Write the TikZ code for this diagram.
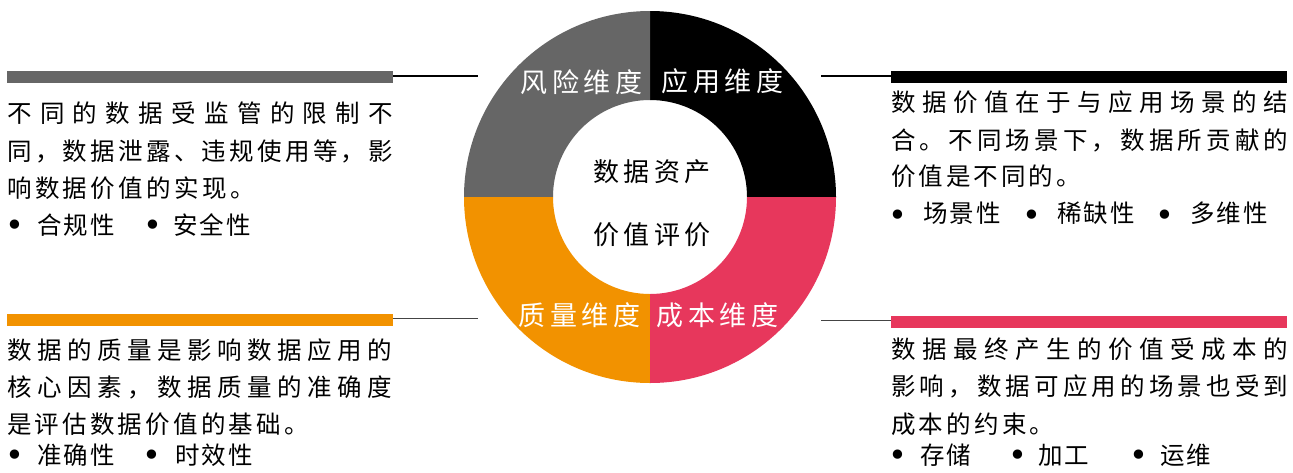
\documentclass[tikz,border=0pt]{standalone}
\usepackage{fontspec}
\newfontfamily\cjk{Noto Sans CJK SC}
\newfontfamily\bulfont{DejaVu Sans}
\definecolor{segGray}{RGB}{102,102,102}
\definecolor{segBlack}{RGB}{0,0,0}
\definecolor{segOrange}{RGB}{242,146,0}
\definecolor{segPink}{RGB}{231,55,92}
\definecolor{lineDark}{RGB}{68,68,68}
\newdimen\lsamt
\def\spaced#1#2{\lsamt=#1\relax\spacedfirst#2\relax}
\def\spacedfirst#1{#1\spacedi}
\def\spacedi#1{\ifx#1\relax\else\hskip\lsamt#1\expandafter\spacedi\fi}
\def\just#1#2{\makebox[#1][s]{\justfirst#2\relax}}
\def\justfirst#1{#1\justi}
\def\justi#1{\ifx#1\relax\else\hfil#1\expandafter\justi\fi}
\tikzset{
  body/.style={anchor=west, inner sep=0pt, font=\cjk\fontsize{24.5}{24.5}\selectfont, text=black},
  bul/.style={anchor=north, inner sep=0pt, font=\bulfont\fontsize{32}{32}\selectfont, text=black},
  seglabel/.style={anchor=center, inner sep=0pt, font=\cjk\fontsize{27}{27}\selectfont, text=white},
  centerlabel/.style={anchor=center, inner sep=0pt, font=\cjk\fontsize{26}{26}\selectfont, text=black},
  bar/.style={rectangle, inner sep=0pt, minimum height=11.7pt, draw=none},
  conn/.style={line width=1.4pt},
}
\begin{document}
\begin{tikzpicture}[x=1pt,y=-1pt]
\useasboundingbox[fill=white] (0,0) rectangle (1293,472);

% ring
\begin{scope}[shift={(650,197)},x=1pt,y=1pt]
  \fill[segBlack] (0:186) arc[start angle=0,end angle=90,radius=186] -- (90:97) arc[start angle=90,end angle=0,radius=97] -- cycle;
  \fill[segGray] (90:186) arc[start angle=90,end angle=180,radius=186] -- (180:97) arc[start angle=180,end angle=90,radius=97] -- cycle;
  \fill[segOrange] (180:186) arc[start angle=180,end angle=270,radius=186] -- (270:97) arc[start angle=270,end angle=180,radius=97] -- cycle;
  \fill[segPink] (270:186) arc[start angle=270,end angle=360,radius=186] -- (0:97) arc[start angle=360,end angle=270,radius=97] -- cycle;
\end{scope}

% segment labels
\node[seglabel] (risk) at (581.5,81.7) {\spaced{4.5pt}{风险维度}};
\node[seglabel] (app) at (722.5,81.7) {\spaced{4.5pt}{应用维度}};
\node[seglabel] (qual) at (579.5,315) {\spaced{4.5pt}{质量维度}};
\node[seglabel] (cost) at (717.5,315) {\spaced{4.5pt}{成本维度}};

% center
\node[centerlabel] (c1) at (652,171.7) {\spaced{4.5pt}{数据资产}};
\node[centerlabel] (c2) at (652,235) {\spaced{4.5pt}{价值评价}};

% bars and connectors
\node[bar, fill=segGray, minimum width=386pt] (barTL) at (200,76.8) {};
\node[bar, fill=segBlack, minimum width=396pt] (barTR) at (1089,76.8) {};
\node[bar, fill=segOrange, minimum width=386pt] (barBL) at (200,319.8) {};
\node[bar, fill=segPink, minimum width=396pt] (barBR) at (1089,321.7) {};
\coordinate (endTL) at (478,76);
\coordinate (endTR) at (821,76);
\coordinate (endBL) at (478,318.7);
\coordinate (endBR) at (821,320.7);
\draw[conn, black] (barTL.east |- endTL) -- (endTL);
\draw[conn, black] (barTR.west |- endTR) -- (endTR);
\draw[conn, lineDark] (barBL.east |- endBL) -- (endBL);
\draw[conn, lineDark] (barBR.west |- endBR) -- (endBR);

% top-left text
\node[body] (tl1) at (7,113.3) {\just{386pt}{不同的数据受监管的限制不}};
\node[body] (tl2) at (7,151.7) {\just{386pt}{同，数据泄露、违规使用等，影}};
\node[body] (tl3) at (7,188.3) {\spaced{3.4pt}{响数据价值的实现。}};
\node[bul] (tlb1) at (15,220.2) {•};
\node[body] (tli1) at (37,225.5) {\spaced{2.2pt}{合规性}};
\node[bul] (tlb2) at (152.5,220.2) {•};
\node[body] (tli2) at (173,225.5) {\spaced{2.2pt}{安全性}};

% top-right text
\node[body] (tr1) at (891,102.3) {\just{397pt}{数据价值在于与应用场景的结}};
\node[body] (tr2) at (891,140) {\just{397pt}{合。不同场景下，数据所贡献的}};
\node[body] (tr3) at (891,176.7) {\spaced{3pt}{价值是不同的。}};
\node[bul] (trb1) at (898.3,210) {•};
\node[body] (tri1) at (923,213.3) {\spaced{2.2pt}{场景性}};
\node[bul] (trb2) at (1032,210) {•};
\node[body] (tri2) at (1057,213.3) {\spaced{2.2pt}{稀缺性}};
\node[bul] (trb3) at (1165,210) {•};
\node[body] (tri3) at (1190,213.3) {\spaced{2.2pt}{多维性}};

% bottom-left text
\node[body] (bl1) at (7,350) {\just{385pt}{数据的质量是影响数据应用的}};
\node[body] (bl2) at (7,387) {\just{385pt}{核心因素，数据质量的准确度}};
\node[body] (bl3) at (7,424) {\spaced{3.2pt}{是评估数据价值的基础。}};
\node[bul] (blb1) at (15,449.7) {•};
\node[body] (bli1) at (37,455) {\spaced{2.2pt}{准确性}};
\node[bul] (blb2) at (152,449.7) {•};
\node[body] (bli2) at (175,455) {\spaced{2.2pt}{时效性}};

% bottom-right text
\node[body] (br1) at (891,349) {\just{397pt}{数据最终产生的价值受成本的}};
\node[body] (br2) at (891,386.7) {\just{397pt}{影响，数据可应用的场景也受到}};
\node[body] (br3) at (891,424) {\spaced{3.2pt}{成本的约束。}};
\node[bul] (brb1) at (898,449.7) {•};
\node[body] (bri1) at (920,455) {\spaced{2.2pt}{存储}};
\node[bul] (brb2) at (1018,449.7) {•};
\node[body] (bri2) at (1038,455) {\spaced{2.2pt}{加工}};
\node[bul] (brb3) at (1139,449.7) {•};
\node[body] (bri3) at (1160,455) {\spaced{2.2pt}{运维}};
\end{tikzpicture}
\end{document}
